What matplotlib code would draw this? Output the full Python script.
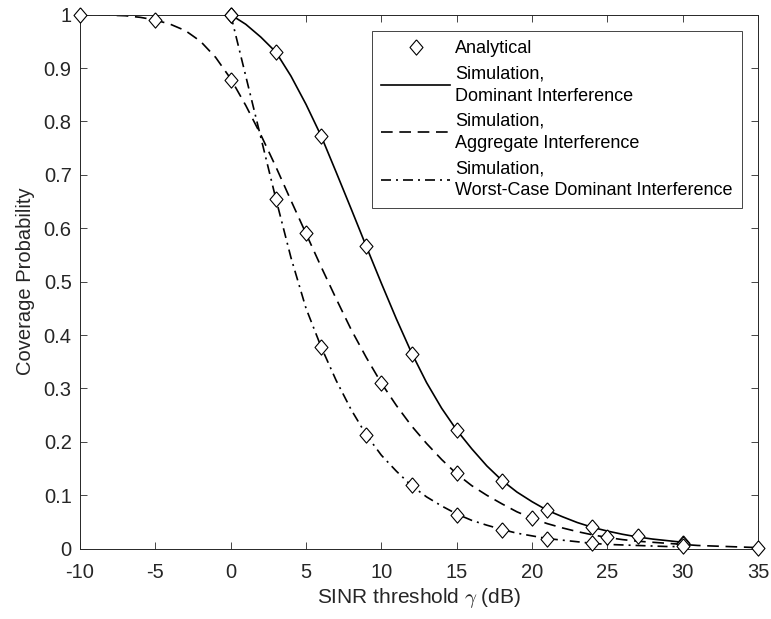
import numpy as np
import matplotlib
matplotlib.use("Agg")
import matplotlib.pyplot as plt

plt.rcParams["font.family"] = ["Liberation Sans", "DejaVu Sans"]
plt.rcParams["mathtext.fontset"] = "cm"
plt.rcParams["axes.unicode_minus"] = False

GRAY = "#262626"

# simulation curves
x_dom = list(range(0, 31))
y_dom = [1.0, 0.982, 0.958, 0.93, 0.885, 0.832, 0.773, 0.705, 0.636, 0.566,
         0.497, 0.43, 0.367, 0.311, 0.263, 0.222, 0.187, 0.155, 0.128, 0.106,
         0.088, 0.072, 0.06, 0.049, 0.04, 0.033, 0.027, 0.022, 0.018, 0.015,
         0.012]

x_agg = list(range(-10, 36))
y_agg = [1.0, 1.0, 0.999, 0.998, 0.995, 0.99, 0.982, 0.97, 0.95, 0.92,
         0.88, 0.83, 0.775, 0.715, 0.652, 0.59, 0.528, 0.468, 0.41, 0.358,
         0.31, 0.268, 0.23, 0.197, 0.167, 0.14, 0.118, 0.1, 0.084, 0.069,
         0.057, 0.047, 0.039, 0.032, 0.026, 0.021, 0.017, 0.014, 0.012, 0.01,
         0.008, 0.006, 0.005, 0.004, 0.003, 0.002]

x_wc = list(range(0, 31))
y_wc = [1.0, 0.885, 0.77, 0.655, 0.545, 0.45, 0.378, 0.315, 0.26, 0.213,
        0.175, 0.145, 0.118, 0.097, 0.08, 0.065, 0.053, 0.044, 0.036, 0.029,
        0.024, 0.019, 0.016, 0.013, 0.010, 0.008, 0.007, 0.006, 0.005, 0.004,
        0.004]

# analytical points
xa_dom = [0, 3, 6, 9, 12, 15, 18, 21, 24, 27, 30]
ya_dom = [1.0, 0.93, 0.773, 0.566, 0.365, 0.222, 0.127, 0.072, 0.041, 0.023, 0.011]
xa_agg = [-10, -5, 0, 5, 10, 15, 20, 25, 30, 35]
ya_agg = [1.0, 0.99, 0.878, 0.591, 0.31, 0.141, 0.057, 0.021, 0.008, 0.001]
xa_wc = [0, 3, 6, 9, 12, 15, 18, 21, 24, 30]
ya_wc = [1.0, 0.654, 0.377, 0.212, 0.119, 0.064, 0.035, 0.019, 0.010, 0.005]

diamond = [(0, 1), (0.85, 0), (0, -1), (-0.85, 0), (0, 1)]
mk = dict(linestyle="none", marker=diamond, markersize=11, markerfacecolor="white",
          markeredgecolor="black", markeredgewidth=0.8, clip_on=False)

fig = plt.figure(figsize=(7.71, 6.19), dpi=100)
ax = fig.add_axes([0.1038, 0.1136, 0.8794, 0.8627])

ax.plot(xa_dom, ya_dom, label="Analytical", zorder=3, **mk)
ax.plot(xa_agg, ya_agg, zorder=3, **mk)
ax.plot(xa_wc, ya_wc, zorder=3, **mk)

ax.plot(x_dom, y_dom, color="black", lw=1.2, label="Simulation,\nDominant Interference")
ax.plot(x_agg, y_agg, color="black", lw=1.2, dashes=(7, 4),
        label="Simulation,\nAggregate Interference")
ax.plot(x_wc, y_wc, color="black", lw=1.2, dashes=(6, 3, 1.2, 3),
        label="Simulation,\nWorst-Case Dominant Interference")

ax.set_xlim(-10, 35)
ax.set_ylim(0, 1)
ax.set_xticks(range(-10, 36, 5))
ax.set_xticklabels([str(v) for v in range(-10, 36, 5)])
ax.set_yticks([i / 10 for i in range(11)])
ax.set_yticklabels(["0"] + ["0.%d" % i for i in range(1, 10)] + ["1"])
ax.tick_params(direction="in", length=5, width=0.6, top=True, right=True,
               labelsize=14.5, colors=GRAY)
ax.tick_params(axis="x", pad=10)
ax.tick_params(axis="y", pad=6)
for s in ax.spines.values():
    s.set_color(GRAY)
    s.set_linewidth(0.7)

ax.set_xlabel("SINR threshold $\\gamma$ (dB)", fontsize=15, color=GRAY, labelpad=3)
ax.set_ylabel("Coverage Probability", fontsize=14.5, color=GRAY, labelpad=6)

leg = ax.legend(loc="upper right", bbox_to_anchor=(0.976, 0.969), borderaxespad=0,
                fontsize=13, fancybox=False, framealpha=1, edgecolor=GRAY,
                handlelength=3.8, handletextpad=0.3, labelspacing=0.45,
                borderpad=0.5)
leg.get_frame().set_linewidth(0.6)
for t in leg.get_texts():
    t.set_linespacing(1.4)

fig.savefig("out.png", dpi=100)
